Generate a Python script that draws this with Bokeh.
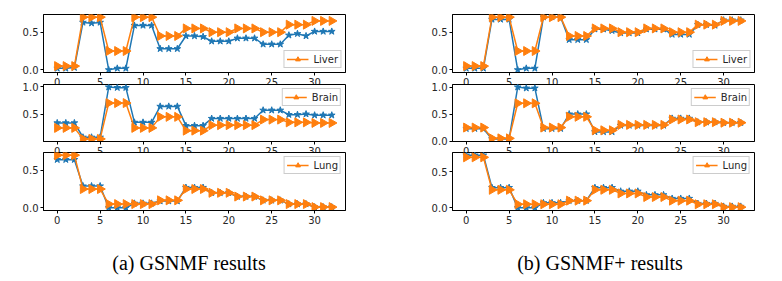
import numpy as np
from bokeh.plotting import figure
from bokeh.layouts import row, column
from bokeh.models import Range1d, FixedTicker, NumeralTickFormatter, Legend, LegendItem, Div
from bokeh.embed import file_html
from bokeh.resources import INLINE

# ---------------- data ----------------
x = list(range(33))
x_ticks = [0, 5, 10, 15, 20, 25, 30]
y_ticks = [0.0, 0.5, 1.0]
tissues = ["Liver", "Brain", "Lung"]
captions = ["(a) GSNMF results", "(b) GSNMF+ results"]

# ground-truth proportions (orange, same in both panels)
liver_true = [0.05, 0.05, 0.05, 0.70, 0.70, 0.70, 0.25, 0.25, 0.25, 0.70, 0.70, 0.70,
              0.45, 0.45, 0.45, 0.55, 0.55, 0.55, 0.50, 0.50, 0.50, 0.55, 0.55, 0.55,
              0.50, 0.50, 0.50, 0.60, 0.60, 0.60, 0.65, 0.65, 0.65]
brain_true = [0.25, 0.25, 0.25, 0.05, 0.05, 0.05, 0.70, 0.70, 0.70, 0.25, 0.25, 0.25,
              0.45, 0.45, 0.45, 0.20, 0.20, 0.20, 0.30, 0.30, 0.30, 0.30, 0.30, 0.30,
              0.40, 0.40, 0.40, 0.35, 0.35, 0.35, 0.34, 0.34, 0.34]
lung_true = [0.70, 0.70, 0.70, 0.25, 0.25, 0.25, 0.05, 0.05, 0.05, 0.05, 0.05, 0.05,
             0.10, 0.10, 0.10, 0.25, 0.25, 0.25, 0.20, 0.20, 0.20, 0.15, 0.15, 0.15,
             0.10, 0.10, 0.10, 0.05, 0.05, 0.05, 0.01, 0.01, 0.01]

# GSNMF estimates (blue, panel a)
liver_gsnmf = [0.02, 0.02, 0.03, 0.63, 0.62, 0.63, 0.00, 0.02, 0.02, 0.59, 0.59, 0.59,
               0.28, 0.28, 0.28, 0.45, 0.45, 0.44, 0.38, 0.38, 0.38, 0.42, 0.42, 0.42,
               0.34, 0.34, 0.34, 0.46, 0.48, 0.45, 0.51, 0.51, 0.51]
brain_gsnmf = [0.34, 0.34, 0.34, 0.08, 0.08, 0.08, 0.99, 0.98, 0.98, 0.35, 0.35, 0.35,
               0.64, 0.64, 0.64, 0.29, 0.29, 0.29, 0.42, 0.42, 0.42, 0.42, 0.42, 0.42,
               0.57, 0.57, 0.57, 0.49, 0.49, 0.50, 0.48, 0.48, 0.48]
lung_gsnmf = [0.64, 0.64, 0.64, 0.29, 0.29, 0.29, 0.00, 0.00, 0.00, 0.06, 0.06, 0.06,
              0.09, 0.09, 0.09, 0.27, 0.27, 0.27, 0.20, 0.20, 0.20, 0.15, 0.15, 0.15,
              0.10, 0.10, 0.10, 0.05, 0.05, 0.05, 0.01, 0.01, 0.01]

# GSNMF+ estimates (blue, panel b)
liver_gsnmfp = [0.02, 0.02, 0.02, 0.67, 0.67, 0.67, 0.00, 0.02, 0.02, 0.70, 0.70, 0.70,
                0.40, 0.40, 0.40, 0.54, 0.54, 0.52, 0.49, 0.49, 0.49, 0.54, 0.54, 0.54,
                0.47, 0.47, 0.47, 0.60, 0.60, 0.59, 0.66, 0.66, 0.66]
brain_gsnmfp = [0.23, 0.23, 0.23, 0.04, 0.04, 0.04, 1.00, 0.98, 0.98, 0.23, 0.23, 0.23,
                0.50, 0.50, 0.50, 0.17, 0.17, 0.17, 0.29, 0.29, 0.29, 0.29, 0.29, 0.29,
                0.42, 0.42, 0.42, 0.35, 0.35, 0.35, 0.34, 0.34, 0.34]
lung_gsnmfp = [0.73, 0.73, 0.73, 0.28, 0.28, 0.28, 0.00, 0.00, 0.00, 0.07, 0.07, 0.07,
               0.10, 0.10, 0.10, 0.28, 0.28, 0.28, 0.23, 0.23, 0.23, 0.18, 0.18, 0.18,
               0.13, 0.13, 0.13, 0.06, 0.06, 0.06, 0.02, 0.02, 0.02]

BLUE = "#1f77b4"
ORANGE = "#ff7f0e"
TICK_COLOR = "#262626"


def make_panel(tissue, est, truth, width, bl, br, height, bt, bb, legend_loc, margin_top):
    lo = min(min(est), min(truth))
    hi = max(max(est), max(truth))
    pad = 0.05 * (hi - lo)
    p = figure(width=width, height=height, output_backend="svg", toolbar_location=None,
               x_range=Range1d(-1.6, 33.6), y_range=Range1d(lo - pad, hi + pad),
               min_border_left=bl, min_border_right=br, min_border_top=bt, min_border_bottom=bb,
               margin=(margin_top, 0, 0, 0))
    p.xgrid.visible = False
    p.ygrid.visible = False
    p.outline_line_color = "black"
    p.outline_line_alpha = 1
    p.outline_line_width = 1
    p.background_fill_color = "white"
    p.border_fill_alpha = 0
    for ax in (p.xaxis[0], p.yaxis[0]):
        ax.axis_line_color = "black"
        ax.major_tick_line_color = "black"
        ax.minor_tick_line_color = None
        ax.major_tick_in = 0
        ax.major_tick_out = 3
        ax.major_label_text_font = "DejaVu Sans"
        ax.major_label_text_font_size = "10px"
        ax.major_label_text_color = TICK_COLOR
        ax.major_label_standoff = 2
    p.xaxis.ticker = FixedTicker(ticks=x_ticks)
    p.yaxis.ticker = FixedTicker(ticks=y_ticks)
    p.yaxis.formatter = NumeralTickFormatter(format="0.0")

    p.line(x, est, line_color=BLUE, line_width=1.5)
    p.scatter(x, est, marker="star", size=7, fill_color=BLUE, line_color=BLUE)
    ol = p.line(x, truth, line_color=ORANGE, line_width=1.5)
    osc = p.scatter(x, truth, marker="triangle", angle=-np.pi / 2, size=9,
                    fill_color=ORANGE, line_color=ORANGE)

    leg = Legend(items=[LegendItem(label=tissue, renderers=[ol, osc])], location=legend_loc)
    leg.label_text_font = "DejaVu Sans"
    leg.label_text_font_size = "10px"
    leg.label_text_color = TICK_COLOR
    leg.glyph_width = 22
    leg.glyph_height = 12
    leg.label_height = 12
    leg.label_standoff = 5
    leg.padding = 2
    leg.spacing = 0
    leg.margin = 4
    leg.border_line_color = "#cccccc"
    leg.border_line_alpha = 1
    leg.background_fill_alpha = 0.9
    p.add_layout(leg)
    return p


specs = [
    (captions[0], [liver_gsnmf, brain_gsnmf, lung_gsnmf], 400, 43, 55, 39),
    (captions[1], [liver_gsnmfp, brain_gsnmfp, lung_gsnmfp], 382, 52, 28, 50),
]
truths = [liver_true, brain_true, lung_true]
cols = []
for cap, ests, w, bl, br, cap_left in specs:
    f1 = make_panel(tissues[0], ests[0], truths[0], w, bl, br, 92, 14, 20, "bottom_right", 0)
    f2 = make_panel(tissues[1], ests[1], truths[1], w, bl, br, 85, 8, 20, "top_right", -16)
    f3 = make_panel(tissues[2], ests[2], truths[2], w, bl, br, 86, 8, 20, "top_right", -17)
    div = Div(text=cap, width=300, height=24, margin=(21, 0, 0, cap_left),
              styles={"font-family": "Liberation Serif", "font-size": "20px",
                      "text-align": "center", "color": "black", "line-height": "24px"})
    cols.append(column(f1, f2, f3, div, spacing=0))

layout = row(*cols, spacing=0)
open("out.html", "w").write(file_html(layout, INLINE))
